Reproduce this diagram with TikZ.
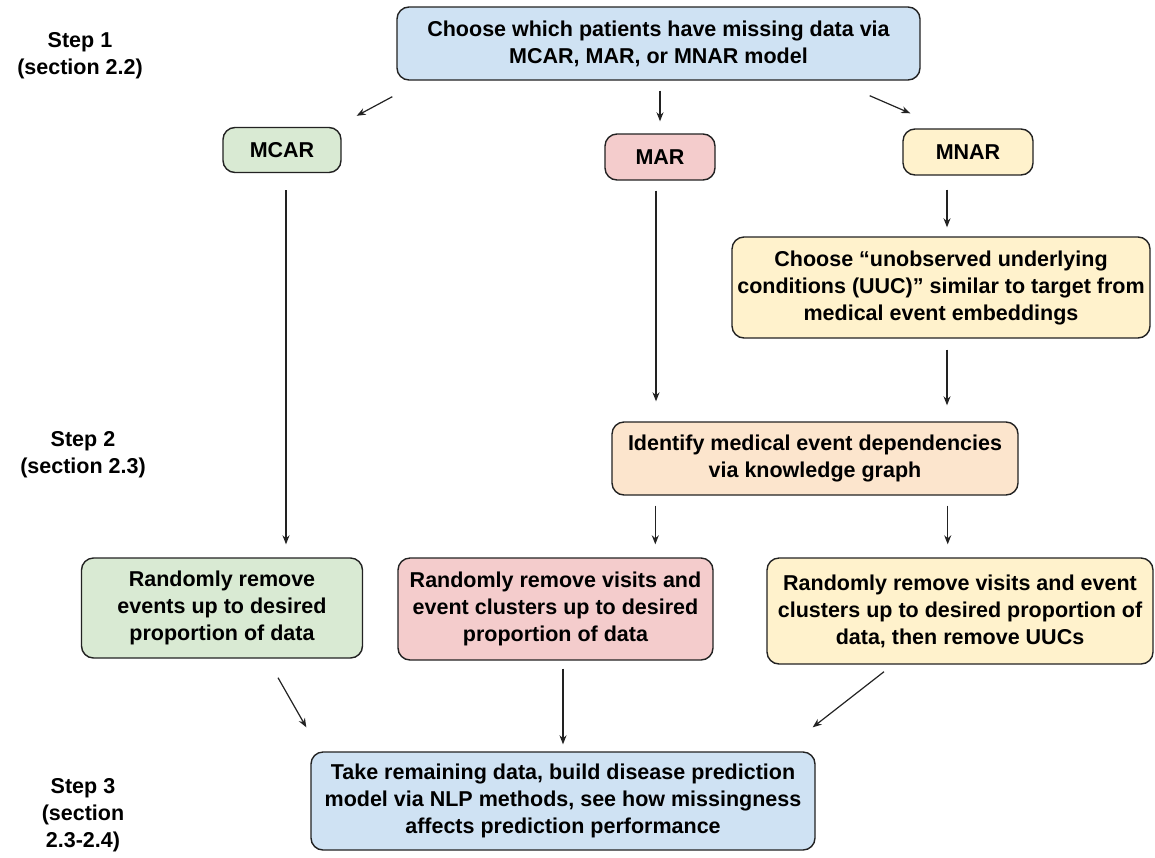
\documentclass[tikz,border=0pt]{standalone}
\usepackage{fontspec}
\setmainfont{Liberation Sans}
\usetikzlibrary{arrows.meta,calc}

\definecolor{fillblue}{HTML}{CFE2F3}
\definecolor{fillgreen}{HTML}{D9EAD3}
\definecolor{fillred}{HTML}{F4CCCC}
\definecolor{fillyellow}{HTML}{FFF2CC}
\definecolor{fillorange}{HTML}{FCE5CD}
\definecolor{edgegray}{HTML}{222222}

\begin{document}
\begin{tikzpicture}[x=1pt,y=-1pt,
  box/.style={draw=edgegray, line width=1.4pt, rounded corners=12pt,
    align=center, inner sep=0pt,
    font=\fontsize{21.5}{27}\selectfont\bfseries},
  steplabel/.style={align=center, inner sep=0pt,
    font=\fontsize{21.5}{27}\selectfont\bfseries},
  arr/.style={-{Stealth[length=9pt,width=7pt]}, line width=1.2pt, draw=edgegray}]
\useasboundingbox (0,0) rectangle (1155,857);

% step labels on the left
\node[steplabel] (s1) at (80,56) {Step 1\\(section 2.2)};
\node[steplabel] (s2) at (83,455) {Step 2\\(section 2.3)};
\node[steplabel] (s3) at (83,815) {Step 3\\(section\\2.3-2.4)};

% boxes
\node[box, fill=fillblue, minimum width=523pt, minimum height=73pt] (top) at (658.5,43.5)
  {Choose which patients have missing data via\\MCAR, MAR, or MNAR model};

\node[box, fill=fillgreen, minimum width=118pt, minimum height=45pt] (mcar) at (282,150) {MCAR};
\node[box, fill=fillred, minimum width=110pt, minimum height=46pt] (mar) at (660,157) {MAR};
\node[box, fill=fillyellow, minimum width=130pt, minimum height=46pt] (mnar) at (968,152) {MNAR};

\node[box, fill=fillyellow, minimum width=418pt, minimum height=101pt] (uuc) at (941,287.5)
  {Choose “unobserved underlying\\conditions (UUC)” similar to target from\\medical event embeddings};

\node[box, fill=fillorange, minimum width=406pt, minimum height=73pt] (ident) at (815,458.5)
  {Identify medical event dependencies\\via knowledge graph};

\node[box, fill=fillgreen, minimum width=281pt, minimum height=100pt] (rmcar) at (222,608)
  {Randomly remove\\events up to desired\\proportion of data};
\node[box, fill=fillred, minimum width=315pt, minimum height=102pt] (rmar) at (555.5,609)
  {Randomly remove visits and\\event clusters up to desired\\proportion of data};
\node[box, fill=fillyellow, minimum width=386pt, minimum height=106pt] (rmnar) at (960,611)
  {Randomly remove visits and event\\clusters up to desired proportion of\\data, then remove UUCs};

\node[box, fill=fillblue, minimum width=504pt, minimum height=98pt] (final) at (563,801)
  {Take remaining data, build disease prediction\\model via NLP methods, see how missingness\\affects prediction performance};

% connectors
\draw[arr] ([xshift=-4pt,yshift=-16pt]top.south west) -- ([xshift=15pt,yshift=11pt]mcar.north east);
\draw[arr, shorten <=10pt, shorten >=12pt] (top.south -| mar.north) -- (mar.north);
\draw[arr] ([xshift=-51pt,yshift=-15pt]top.south east) -- ([xshift=8pt,yshift=15pt]mnar.north west);

\draw[arr, shorten <=17pt, shorten >=13pt] ([xshift=4pt]mcar.south) -- ([xshift=4pt]mcar.south |- rmcar.north);
\draw[arr, shorten <=10pt, shorten >=20pt] ([xshift=-4pt]mar.south) -- ([xshift=-4pt]mar.south |- ident.north);
\draw[arr, shorten <=14pt, shorten >=9pt] ([xshift=-21pt]mnar.south) -- ([xshift=-21pt]mnar.south |- uuc.north);
\draw[arr, shorten <=11pt, shorten >=16pt] ([xshift=6pt]uuc.south) -- ([xshift=6pt]uuc.south |- ident.north);
\draw[arr, shorten <=10pt, shorten >=13pt] ([xshift=44pt]ident.south west) -- ([xshift=44pt]ident.south west |- rmar.north);
\draw[arr, shorten <=10pt, shorten >=13pt] ([xshift=-71pt]ident.south east) -- ([xshift=-71pt]ident.south east |- rmnar.north);

\draw[arr] ([xshift=56pt,yshift=-19pt]rmcar.south) -- ([xshift=-4pt,yshift=24pt]final.north west);
\draw[arr, shorten <=8pt, shorten >=7pt] (rmar.south -| final.north) -- (final.north);
\draw[arr] ([xshift=-76pt,yshift=-7pt]rmnar.south) -- ([xshift=-3pt,yshift=24pt]final.north east);
\end{tikzpicture}
\end{document}
